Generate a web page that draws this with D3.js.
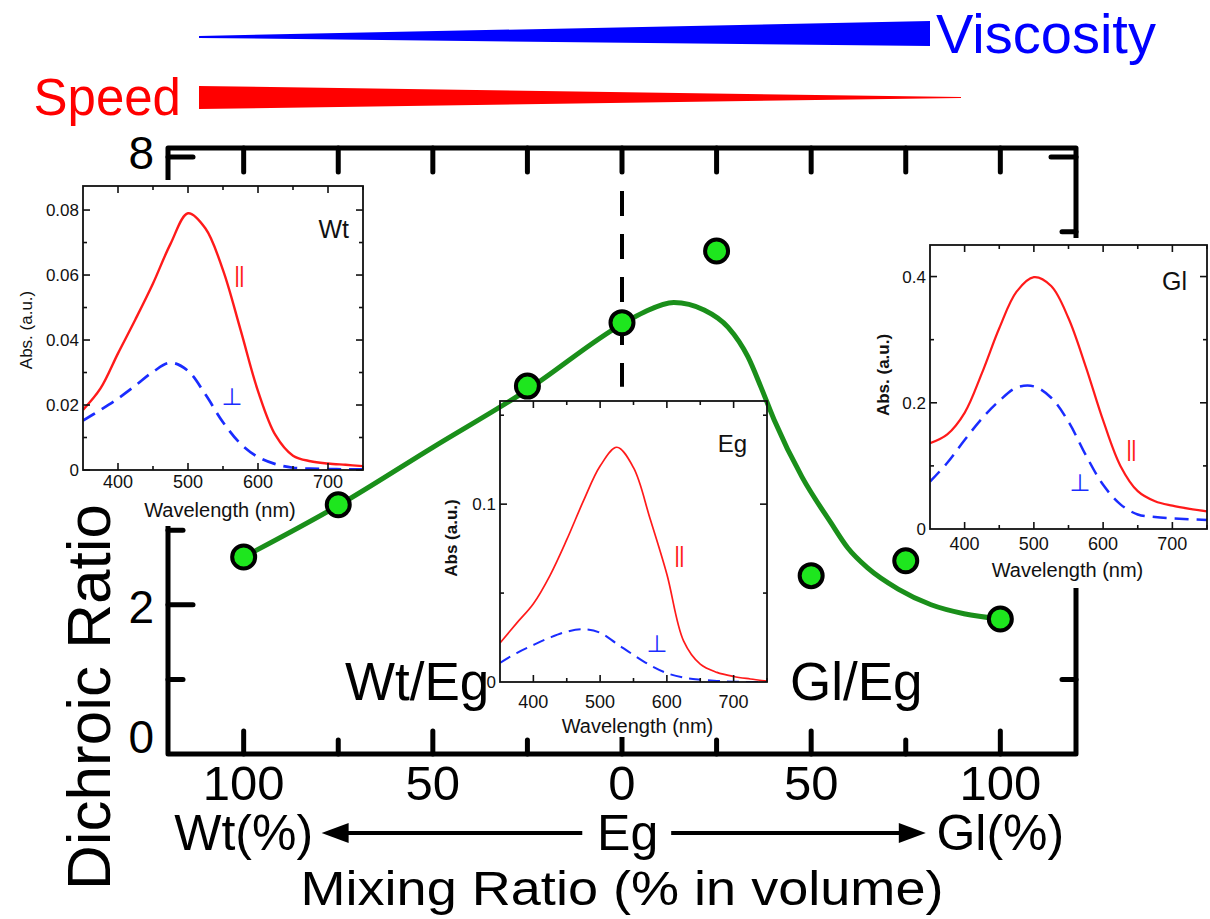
<!DOCTYPE html>
<html lang="en">
<head>
<meta charset="UTF-8">
<title>Dichroic Ratio</title>
<script src="https://d3js.org/d3.v7.min.js"></script>
<style>
  body { margin: 0; background: #fff; }
  svg { display: block; font-family: "Liberation Sans", Arial, sans-serif; }
</style>
</head>
<body>
<script>
// main plot: signed mixing ratio (-100 = pure Wt, 0 = Eg, +100 = pure Gl)
const mixX = [-100, -75, -25, 0, 25, 50, 75, 100];
const ratioY = [2.64, 3.34, 4.93, 5.78, 6.74, 2.39, 2.59, 1.81];
// guide curve drawn through the points
const fitX = [-100, -75, -50, -25, 0, 5.8, 13.7, 21.7, 28, 33.3, 36.7, 40.2, 47.6, 55.2, 59.7, 65, 73, 81.7, 90.4, 100];
const fitY = [2.64, 3.33, 4.11, 4.88, 5.76, 5.92, 6.05, 5.95, 5.72, 5.32, 4.92, 4.48, 3.71, 3.10, 2.76, 2.49, 2.21, 2.00, 1.88, 1.81];
const xTickVals = [-100, -50, 0, 50, 100];
const xTickText = ["100", "50", "0", "50", "100"];
const yTickVals = [0, 2, 8];

// inset spectra, wavelength grid 350..750 nm
const wave = [350, 375, 400, 425, 450, 475, 500, 525, 550, 575, 600, 625, 650, 675, 700, 725, 750];
const wtPar  = [0.0185, 0.0251, 0.0359, 0.0464, 0.0574, 0.0696, 0.0790, 0.0743, 0.0615, 0.0432, 0.0243, 0.0107, 0.0044, 0.0027, 0.0020, 0.0016, 0.0012];
const wtPerp = [0.0152, 0.0185, 0.0220, 0.0260, 0.0302, 0.0330, 0.0305, 0.0232, 0.0147, 0.0081, 0.0040, 0.0018, 0.0007, 0.0004, 0.0003, 0.0002, 0.0002];
const egPar  = [0.0219, 0.0331, 0.0440, 0.0600, 0.0800, 0.1018, 0.1214, 0.1320, 0.1205, 0.0916, 0.0606, 0.0231, 0.0100, 0.0054, 0.0031, 0.0017, 0.0005];
const egPerp = [0.0107, 0.0163, 0.0208, 0.0250, 0.0283, 0.0297, 0.0277, 0.0215, 0.0152, 0.0094, 0.0050, 0.0025, 0.0013, 0.0006, 0.0002, 0.0000, 0.0000];
const glPar  = [0.136, 0.150, 0.184, 0.247, 0.318, 0.376, 0.399, 0.385, 0.334, 0.257, 0.172, 0.100, 0.060, 0.044, 0.037, 0.032, 0.028];
const glPerp = [0.075, 0.105, 0.141, 0.175, 0.203, 0.224, 0.226, 0.208, 0.170, 0.117, 0.070, 0.039, 0.023, 0.019, 0.017, 0.0155, 0.0143];
const waveTicks = [400, 500, 600, 700];

const width = 1210, height = 919;
const svg = d3.select("body").append("svg")
    .attr("width", width)
    .attr("height", height);

const x = d3.scaleLinear().domain([-120, 120]).range([168, 1076]);
const y = d3.scaleLinear().domain([0, 8]).range([754, 157]);

// ---- top wedges ----
svg.append("polygon")
    .attr("points", "199,36 199,38 930,46 930,21")
    .attr("fill", "#0000ff");
svg.append("polygon")
    .attr("points", "199,86 199,109 961,98 961,97")
    .attr("fill", "#ff0000");
svg.append("text").attr("x", 936).attr("y", 53)
    .attr("font-size", 56).attr("fill", "#0000ff").text("Viscosity");
svg.append("text").attr("x", 181).attr("y", 115).attr("text-anchor", "end")
    .attr("font-size", 51).attr("fill", "#ff0000").text("Speed");

// ---- main frame ----
const main = svg.append("g");
main.append("rect")
    .attr("x", x(-120)).attr("y", y(8.12))
    .attr("width", x(120) - x(-120)).attr("height", y(0) - y(8.12))
    .attr("fill", "none").attr("stroke", "#000").attr("stroke-width", 5)
    .attr("stroke-linejoin", "round");

const tickStyle = sel => sel.attr("stroke", "#000").attr("stroke-width", 5).attr("stroke-linecap", "round");
d3.range(-100, 101, 25).forEach(v => {
  const len = v % 50 === 0 ? 23 : 14;
  main.append("line").attr("x1", x(v)).attr("x2", x(v)).attr("y1", y(0)).attr("y2", y(0) - len).call(tickStyle);
  main.append("line").attr("x1", x(v)).attr("x2", x(v)).attr("y1", y(8.12)).attr("y2", y(8.12) + 24).call(tickStyle);
});
d3.range(1, 9).forEach(v => {
  const len = v % 2 === 0 ? 25 : 15;
  main.append("line").attr("x1", x(-120)).attr("x2", x(-120) + len).attr("y1", y(v)).attr("y2", y(v)).call(tickStyle);
});
[1, 3, 5, 7, 8].forEach(v => {
  const len = v === 8 ? 25 : 14;
  main.append("line").attr("x1", x(120)).attr("x2", x(120) - len).attr("y1", y(v)).attr("y2", y(v)).call(tickStyle);
});

// dashed line at pure Eg
main.append("line")
    .attr("x1", x(0)).attr("x2", x(0)).attr("y1", y(8.12)).attr("y2", y(4.92))
    .attr("stroke", "#000").attr("stroke-width", 4).attr("stroke-dasharray", "25,18");

// fit curve
const fitLine = d3.line().x((d, i) => x(fitX[i])).y(d => y(d)).curve(d3.curveMonotoneX);
main.append("path").attr("d", fitLine(fitY))
    .attr("fill", "none").attr("stroke", "#1a8f1a").attr("stroke-width", 5);

main.selectAll("circle.pt").data(ratioY).join("circle")
    .attr("class", "pt")
    .attr("cx", (d, i) => x(mixX[i])).attr("cy", d => y(d)).attr("r", 11.5)
    .attr("fill", "#1ee61e").attr("stroke", "#000").attr("stroke-width", 4);

// ---- insets ----
function drawInset(cfg) {
  const g = svg.append("g");
  cfg.bg.forEach(r => g.append("rect").attr("x", r[0]).attr("y", r[1]).attr("width", r[2]).attr("height", r[3]).attr("fill", "#fff"));
  const ix = d3.scaleLinear().domain([350, 750]).range([cfg.left, cfg.right]);
  const iy = d3.scaleLinear().domain([0, cfg.ymax]).range([cfg.bottom, cfg.top]);
  const w = cfg.right - cfg.left, h = cfg.bottom - cfg.top;

  const clipId = "clip-" + cfg.name;
  g.append("clipPath").attr("id", clipId).append("rect")
      .attr("x", cfg.left).attr("y", cfg.top).attr("width", w).attr("height", h);

  const ln = d3.line().x((d, i) => ix(wave[i])).y(d => iy(d)).curve(d3.curveCatmullRom);
  g.append("path").attr("d", ln(cfg.perp)).attr("clip-path", `url(#${clipId})`)
      .attr("fill", "none").attr("stroke", "#1a2cff").attr("stroke-width", cfg.sw + 0.3)
      .attr("stroke-dasharray", cfg.dash);
  g.append("path").attr("d", ln(cfg.par)).attr("clip-path", `url(#${clipId})`)
      .attr("fill", "none").attr("stroke", "#ff1a1a").attr("stroke-width", cfg.sw);

  // ticks on all four sides
  const tk = g.append("g").attr("stroke", "#111").attr("stroke-width", 1.6);
  d3.range(400, 751, 50).forEach(v => {
    const len = v % 100 === 0 ? 7 : 4;
    tk.append("line").attr("x1", ix(v)).attr("x2", ix(v)).attr("y1", cfg.bottom).attr("y2", cfg.bottom - len);
    tk.append("line").attr("x1", ix(v)).attr("x2", ix(v)).attr("y1", cfg.top).attr("y2", cfg.top + len);
  });
  cfg.yMinor.forEach(v => {
    const len = cfg.yMajor.includes(v) ? 7 : 4;
    tk.append("line").attr("x1", cfg.left).attr("x2", cfg.left + len).attr("y1", iy(v)).attr("y2", iy(v));
    tk.append("line").attr("x1", cfg.right).attr("x2", cfg.right - len).attr("y1", iy(v)).attr("y2", iy(v));
  });
  g.append("rect").attr("x", cfg.left).attr("y", cfg.top).attr("width", w).attr("height", h)
      .attr("fill", "none").attr("stroke", "#111").attr("stroke-width", 1.8);

  waveTicks.forEach(v => {
    g.append("text").attr("x", ix(v)).attr("y", cfg.bottom + cfg.xlabDy)
        .attr("text-anchor", "middle").attr("font-size", 18).attr("fill", "#111").text(v);
  });
  cfg.yMajor.forEach((v, i) => {
    g.append("text").attr("x", cfg.left - 4).attr("y", iy(v) + 6)
        .attr("text-anchor", "end").attr("font-size", 17).attr("fill", "#111").text(cfg.yText[i]);
  });
  g.append("text").attr("x", (cfg.left + cfg.right) / 2 + cfg.wlDx).attr("y", cfg.bottom + cfg.wlDy)
      .attr("text-anchor", "middle").attr("font-size", 20).attr("fill", "#111").text("Wavelength (nm)");
  g.append("text").attr("transform", `translate(${cfg.absX},${cfg.absY}) rotate(-90)`)
      .attr("text-anchor", "middle").attr("font-size", 17).attr("font-weight", cfg.absBold ? "bold" : "normal")
      .attr("fill", "#111").text(cfg.absText);
  g.append("text").attr("x", cfg.right - cfg.nameDx).attr("y", cfg.top + cfg.nameDy)
      .attr("text-anchor", "end").attr("font-size", cfg.nameSize).attr("fill", "#111").text(cfg.name);
  g.append("text").attr("x", cfg.parPos[0]).attr("y", cfg.parPos[1]).attr("text-anchor", "middle")
      .attr("font-size", 22).attr("fill", "#ff1a1a").attr("letter-spacing", -1).text("||");
  g.append("text").attr("x", cfg.perpPos[0]).attr("y", cfg.perpPos[1]).attr("text-anchor", "middle")
      .attr("font-family", "DejaVu Sans").attr("font-size", 24).attr("fill", "#1a2cff").text("\u22A5");
}

drawInset({
  name: "Wt", left: 83, right: 363, top: 186, bottom: 470, ymax: 0.0874,
  par: wtPar, perp: wtPerp, sw: 2.4, dash: "14,8",
  yMajor: [0, 0.02, 0.04, 0.06, 0.08], yText: ["0", "0.02", "0.04", "0.06", "0.08"],
  yMinor: d3.range(0, 0.0875, 0.01).map(v => +v.toFixed(2)),
  xlabDy: 18, wlDx: -3, wlDy: 47, absX: 32, absY: 330, absText: "Abs. (a.u.)", absBold: false,
  nameDx: 14, nameDy: 52, nameSize: 25, parPos: [239, 282], perpPos: [232, 405],
  bg: [[0, 180, 368, 296], [60, 476, 232, 50]]
});
drawInset({
  name: "Eg", left: 500, right: 767, top: 401, bottom: 682, ymax: 0.158,
  par: egPar, perp: egPerp, sw: 1.7, dash: "12,7",
  yMajor: [0, 0.1], yText: ["0", "0.1"],
  yMinor: [0.05, 0.1, 0.15],
  xlabDy: 26, wlDx: 4, wlDy: 51, absX: 457, absY: 538, absText: "Abs (a.u.)", absBold: true,
  nameDx: 20, nameDy: 51, nameSize: 24, parPos: [679, 562], perpPos: [657, 652],
  bg: [[440, 462, 62, 240], [490, 682, 282, 55]]
});
drawInset({
  name: "Gl", left: 930, right: 1207, top: 245, bottom: 529, ymax: 0.45,
  par: glPar, perp: glPerp, sw: 2.2, dash: "14,8",
  yMajor: [0, 0.2, 0.4], yText: ["0", "0.2", "0.4"],
  yMinor: [0.1, 0.2, 0.3, 0.4],
  xlabDy: 21, wlDx: -1, wlDy: 48, absX: 889, absY: 375, absText: "Abs. (a.u.)", absBold: true,
  nameDx: 20, nameDy: 45, nameSize: 25, parPos: [1131, 456], perpPos: [1080, 491],
  bg: [[925, 238, 285, 350], [866, 238, 60, 302]]
});

// ---- big labels ----
xTickVals.forEach((v, i) => {
  svg.append("text").attr("x", x(v)).attr("y", 800).attr("text-anchor", "middle")
      .attr("font-size", 49).attr("fill", "#000").text(xTickText[i]);
});
yTickVals.forEach(v => {
  const dy = v === 0 ? -1 : (v === 8 ? 12 : 18);
  svg.append("text").attr("x", 154).attr("y", y(v) + dy).attr("text-anchor", "end")
      .attr("font-size", 46).attr("fill", "#000").text(v);
});
svg.append("text").attr("transform", "translate(110,697) rotate(-90)").attr("text-anchor", "middle")
    .attr("font-size", 62).attr("fill", "#000").text("Dichroic Ratio");
svg.append("text").attr("x", 345).attr("y", 700).attr("font-size", 53).attr("fill", "#000").text("Wt/Eg");
svg.append("text").attr("x", 790).attr("y", 700).attr("font-size", 53).attr("fill", "#000").text("Gl/Eg");

svg.append("text").attr("x", x(-100)).attr("y", 850).attr("text-anchor", "middle")
    .attr("font-size", 50).attr("fill", "#000").text("Wt(%)");
svg.append("text").attr("x", x(1.5)).attr("y", 850).attr("text-anchor", "middle")
    .attr("font-size", 50).attr("fill", "#000").text("Eg");
svg.append("text").attr("x", x(100)).attr("y", 850).attr("text-anchor", "middle")
    .attr("font-size", 50).attr("fill", "#000").text("Gl(%)");
svg.append("text").attr("x", x(0)).attr("y", 905).attr("text-anchor", "middle")
    .attr("font-size", 49).attr("fill", "#000").attr("textLength", 643).attr("lengthAdjust", "spacingAndGlyphs")
    .text("Mixing Ratio (% in volume)");

// arrows
const arrowY = 833;
[[x(-10.5), x(-79.4)], [x(13), x(80.3)]].forEach(([from, tip]) => {
  const dir = Math.sign(tip - from);
  svg.append("line").attr("x1", from).attr("x2", tip - dir * 20).attr("y1", arrowY).attr("y2", arrowY)
      .attr("stroke", "#000").attr("stroke-width", 4);
  svg.append("polygon")
      .attr("points", `${tip},${arrowY} ${tip - dir * 27},${arrowY - 10} ${tip - dir * 27},${arrowY + 10}`)
      .attr("fill", "#000");
});
</script>
</body>
</html>
